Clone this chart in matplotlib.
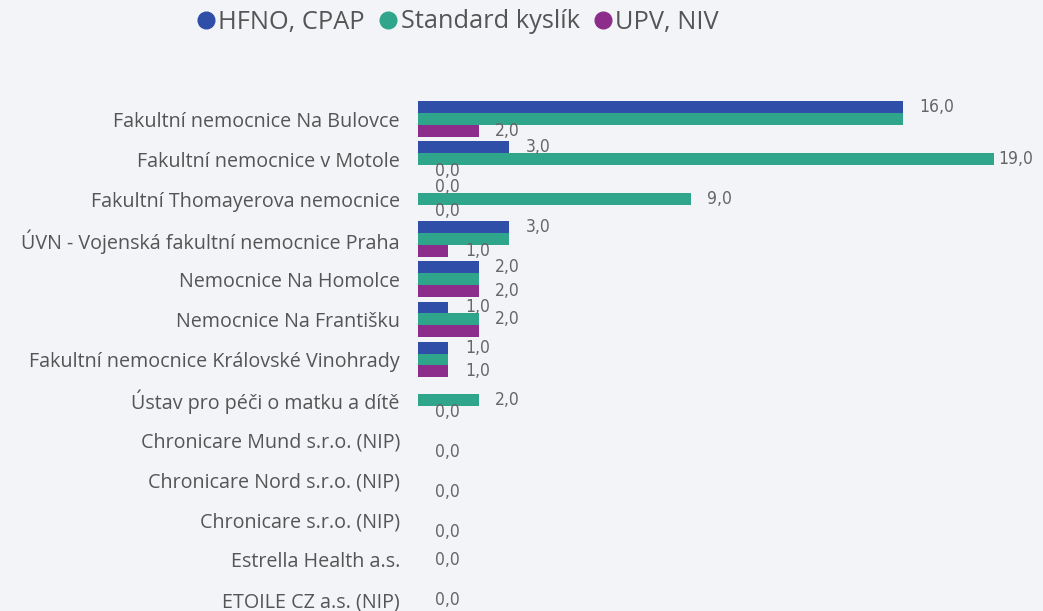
import numpy as np
import matplotlib.pyplot as plt
from matplotlib.lines import Line2D

nan = np.nan
categories = [
    'Fakultní nemocnice Na Bulovce',
    'Fakultní nemocnice v Motole',
    'Fakultní Thomayerova nemocnice',
    'ÚVN - Vojenská fakultní nemocnice Praha',
    'Nemocnice Na Homolce',
    'Nemocnice Na Františku',
    'Fakultní nemocnice Královské Vinohrady',
    'Ústav pro péči o matku a dítě',
    'Chronicare Mund s.r.o. (NIP)',
    'Chronicare Nord s.r.o. (NIP)',
    'Chronicare s.r.o. (NIP)',
    'Estrella Health a.s.',
    'ETOILE CZ a.s. (NIP)',
]
hfno = [16, 3, 0, 3, 2, 1, 1, nan, nan, nan, nan, nan, nan]
standard = [16, 19, 9, 3, 2, 2, 1, 2, nan, nan, nan, 0, 0]
upv = [2, 0, 0, 1, 2, 2, 1, 0, 0, 0, 0, nan, nan]
series_names = ['HFNO, CPAP', 'Standard kyslík', 'UPV, NIV']
colors = ['#2e4ea8', '#2fa68b', '#8c2c8b']

bg = '#f3f4f8'
plt.rcParams['font.family'] = ['Open Sans', 'DejaVu Sans']

fig = plt.figure(figsize=(10.43, 6.11), dpi=100, facecolor=bg)
top = 1 - 99 / 611
bottom = 1 - 620 / 611
left = 418 / 1043
ax = fig.add_axes([left, bottom, 1 - left, top - bottom])
ax.set_facecolor(bg)

y = np.arange(len(categories))
h = 0.298
groups = [hfno, standard, upv]
for i, (vals, c) in enumerate(zip(groups, colors)):
    ax.barh(y + (i - 1) * h, np.nan_to_num(vals), height=h, color=c)

# value labels: a label that repeats the one shown just above it is hidden
xmax = (1043 - 418) / 30.3
for j in range(len(categories)):
    prev_shown = None
    for i in range(3):
        v = groups[i][j]
        if np.isnan(v):
            prev_shown = None
            continue
        if prev_shown is not None and prev_shown == v:
            prev_shown = None
            continue
        prev_shown = v
        off = 3 if v > xmax - 2 else 12
        ax.annotate(f'{v:.1f}'.replace('.', ','), (v, j + (i - 1) * h),
                    xytext=(off, 0), textcoords='offset points',
                    va='center', ha='left', fontsize=12.5, color='#666666',
                    family='DejaVu Sans', fontstretch='condensed')

ax.set_xlim(0, xmax)
ax.set_ylim(len(categories) - 0.5, -0.5)
ax.set_yticks(y)
ax.set_yticklabels(categories, fontsize=14.2, color='#555555')
ax.tick_params(axis='y', length=0, pad=13)
ax.set_xticks([])
for s in ax.spines.values():
    s.set_visible(False)

handles = [Line2D([], [], marker='o', linestyle='', markersize=12,
                  markerfacecolor=c, markeredgecolor=c) for c in colors]
fig.legend(handles, series_names, loc='center', ncol=3,
           bbox_to_anchor=(456 / 1043, 1 - 22 / 611), frameon=False,
           fontsize=18.3, handletextpad=0.0, columnspacing=0.4,
           handlelength=1.0, labelcolor='#555555')

fig.savefig('out.png', dpi=100, facecolor=bg)
